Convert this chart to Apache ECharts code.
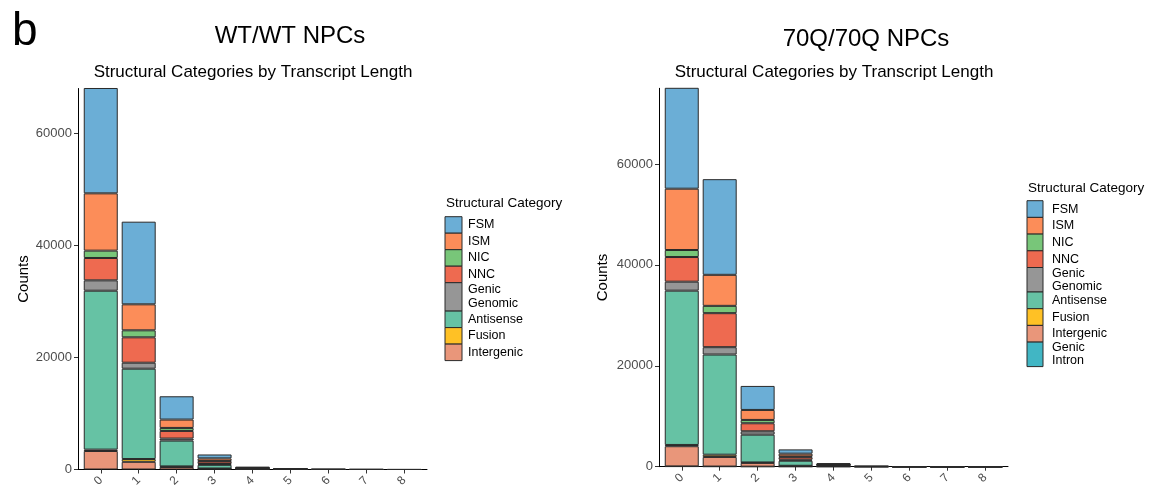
<!DOCTYPE html>
<html>
<head>
<meta charset="utf-8">
<script src="https://cdn.jsdelivr.net/npm/echarts@6/dist/echarts.min.js"></script>
<style>
  html, body { margin: 0; padding: 0; background: #ffffff; }
  #chart { width: 1154px; height: 496px; }
</style>
</head>
<body>
<div id="chart"></div>
<script>
// Transcript length bins (x axis)
const lengthBins = ['0', '1', '2', '3', '4', '5', '6', '7', '8'];

// Structural categories, legend order (top of stack first)
const categoriesWT = ['FSM', 'ISM', 'NIC', 'NNC', 'Genic\nGenomic', 'Antisense', 'Fusion', 'Intergenic'];
const categories70Q = ['FSM', 'ISM', 'NIC', 'NNC', 'Genic\nGenomic', 'Antisense', 'Fusion', 'Intergenic', 'Genic\nIntron'];

const categoryColors = {
  'FSM': '#6BAED6',
  'ISM': '#FC8D59',
  'NIC': '#78C679',
  'NNC': '#EE6A50',
  'Genic\nGenomic': '#969696',
  'Antisense': '#66C2A4',
  'Fusion': '#FFC125',
  'Intergenic': '#E9967A',
  'Genic\nIntron': '#41B6C4'
};

// WT/WT NPCs counts per length bin
const wtFSM        = [24000, 14750, 4160, 700, 100, 30, 8, 3, 1];
const wtISM        = [10230, 4640, 1490, 450, 60, 15, 4, 2, 1];
const wtNIC        = [1310, 1250, 540, 100, 20, 5, 1, 0, 0];
const wtNNC        = [3990, 4530, 1360, 450, 70, 20, 5, 2, 0];
const wtGenic      = [1850, 1070, 360, 150, 30, 10, 2, 1, 0];
const wtAntisense  = [28360, 16120, 4610, 650, 120, 30, 6, 2, 1];
const wtFusion     = [250, 500, 100, 30, 5, 1, 0, 0, 0];
const wtIntergenic = [3300, 1370, 450, 150, 40, 10, 2, 1, 0];

// 70Q/70Q NPCs counts per length bin
const q70FSM         = [25000, 18960, 4760, 850, 150, 25, 6, 2, 1];
const q70ISM         = [12150, 6150, 1980, 550, 90, 12, 3, 1, 0];
const q70NIC         = [1390, 1450, 660, 150, 30, 4, 1, 0, 0];
const q70NNC         = [4890, 6740, 1590, 500, 110, 15, 3, 1, 0];
const q70Genic       = [1780, 1460, 670, 200, 40, 6, 1, 0, 0];
const q70Antisense   = [30580, 19850, 5510, 1000, 190, 25, 5, 2, 1];
const q70Fusion      = [250, 450, 80, 30, 10, 1, 0, 0, 0];
const q70Intergenic  = [4000, 1900, 750, 150, 50, 8, 2, 1, 0];
const q70GenicIntron = [60, 30, 10, 3, 1, 0, 0, 0, 0];

// y-axis ticks
const yTicks = [0, 20000, 40000, 60000];

const valuesWT = [wtFSM, wtISM, wtNIC, wtNNC, wtGenic, wtAntisense, wtFusion, wtIntergenic];
const values70Q = [q70FSM, q70ISM, q70NIC, q70NNC, q70Genic, q70Antisense, q70Fusion, q70Intergenic, q70GenicIntron];

const FONT = '"Liberation Sans", Arial, Helvetica, sans-serif';
const binValues = lengthBins.map(Number);

// Stacked series: first series sits at the bottom, so walk legend order backwards.
// Each datum is [count, bin] so the count column is the one that gets stacked.
function buildSeries(names, valueLists, axisIndex, stackId) {
  const out = [];
  for (let k = names.length - 1; k >= 0; k--) {
    out.push({
      type: 'bar',
      name: names[k].replace('\n', ' '),
      stack: stackId,
      xAxisIndex: axisIndex,
      yAxisIndex: axisIndex,
      encode: { x: 1, y: 0 },
      barWidth: 34,
      clip: true,
      silent: true,
      itemStyle: { color: categoryColors[names[k]], borderColor: '#2a2a2a', borderWidth: 1 },
      data: valueLists[k].map((v, i) => [v, binValues[i]])
    });
  }
  return out;
}

function xAxisDef(gridIndex) {
  return {
    type: 'value', gridIndex: gridIndex, min: -0.6, max: 8.6,
    axisLine: { show: true, onZero: false, lineStyle: { color: '#000', width: 1 } },
    axisTick: { show: true, customValues: binValues, length: 4, lineStyle: { color: '#333' } },
    axisLabel: {
      show: true, customValues: binValues, rotate: 45, margin: 9,
      formatter: v => lengthBins[binValues.indexOf(v)],
      color: '#4D4D4D', fontSize: 12, fontFamily: FONT
    },
    splitLine: { show: false }
  };
}

function yAxisDef(gridIndex, maxVal, gap) {
  return {
    type: 'value', gridIndex: gridIndex, min: 0, max: maxVal,
    name: 'Counts', nameLocation: 'middle', nameGap: gap, nameRotate: 90,
    nameTextStyle: { color: '#000', fontSize: 15, fontFamily: FONT },
    axisLine: { show: true, onZero: false, lineStyle: { color: '#000', width: 1 } },
    axisTick: { show: true, customValues: yTicks, length: 4, lineStyle: { color: '#333' } },
    axisLabel: {
      show: true, customValues: yTicks, margin: 6,
      formatter: v => String(v),
      color: '#4D4D4D', fontSize: 13, fontFamily: FONT
    },
    splitLine: { show: false }
  };
}

// Hand-built legend boxes (keys stretch to fit two-line labels)
function legendGraphics(names, cfg) {
  const els = [{
    type: 'text', x: cfg.titleX, y: cfg.titleY,
    style: { text: 'Structural Category', font: '13.5px ' + FONT, fill: '#000', verticalAlign: 'middle' }
  }];
  let y = cfg.startY;
  names.forEach(n => {
    const h = n.indexOf('\n') >= 0 ? cfg.doubleH : cfg.singleH;
    els.push({
      type: 'rect',
      shape: { x: cfg.keyX, y: y, width: cfg.keyW, height: h },
      style: { fill: categoryColors[n], stroke: '#2a2a2a', lineWidth: 1 }
    });
    els.push({
      type: 'text', x: cfg.labelX, y: y + h / 2,
      style: { text: n, font: '12.5px ' + FONT, fill: '#000', verticalAlign: 'middle', lineHeight: cfg.lineH }
    });
    y += h;
  });
  return els;
}

const chart = echarts.init(document.getElementById('chart'), null, { renderer: 'canvas' });

const graphics = [
  { type: 'text', x: 12, y: 32, style: { text: 'b', font: '46px ' + FONT, fill: '#000', verticalAlign: 'middle' } },
  { type: 'text', x: 290, y: 36, style: { text: 'WT/WT NPCs', font: '24px ' + FONT, fill: '#000', align: 'center', verticalAlign: 'middle' } },
  { type: 'text', x: 253, y: 72, style: { text: 'Structural Categories by Transcript Length', font: '17px ' + FONT, fill: '#000', align: 'center', verticalAlign: 'middle' } },
  { type: 'text', x: 866, y: 39, style: { text: '70Q/70Q NPCs', font: '24px ' + FONT, fill: '#000', align: 'center', verticalAlign: 'middle' } },
  { type: 'text', x: 834, y: 72, style: { text: 'Structural Categories by Transcript Length', font: '17px ' + FONT, fill: '#000', align: 'center', verticalAlign: 'middle' } }
].concat(
  legendGraphics(categoriesWT, { titleX: 446, titleY: 203, keyX: 445, keyW: 17, labelX: 468, startY: 216.7, singleH: 16.5, doubleH: 28.4, lineH: 14 }),
  legendGraphics(categories70Q, { titleX: 1028, titleY: 188, keyX: 1027, keyW: 16, labelX: 1052, startY: 200.7, singleH: 16.7, doubleH: 24.5, lineH: 13 })
);

chart.setOption({
  animation: false,
  backgroundColor: '#ffffff',
  grid: [
    { left: 78, top: 88.5, width: 349, height: 381 },
    { left: 659, top: 88.3, width: 349, height: 378.4 }
  ],
  xAxis: [xAxisDef(0), xAxisDef(1)],
  yAxis: [yAxisDef(0, 68000, 47), yAxisDef(1, 75000, 49)],
  series: buildSeries(categoriesWT, valuesWT, 0, 'wt').concat(buildSeries(categories70Q, values70Q, 1, 'q70')),
  graphic: graphics
});
</script>
</body>
</html>
